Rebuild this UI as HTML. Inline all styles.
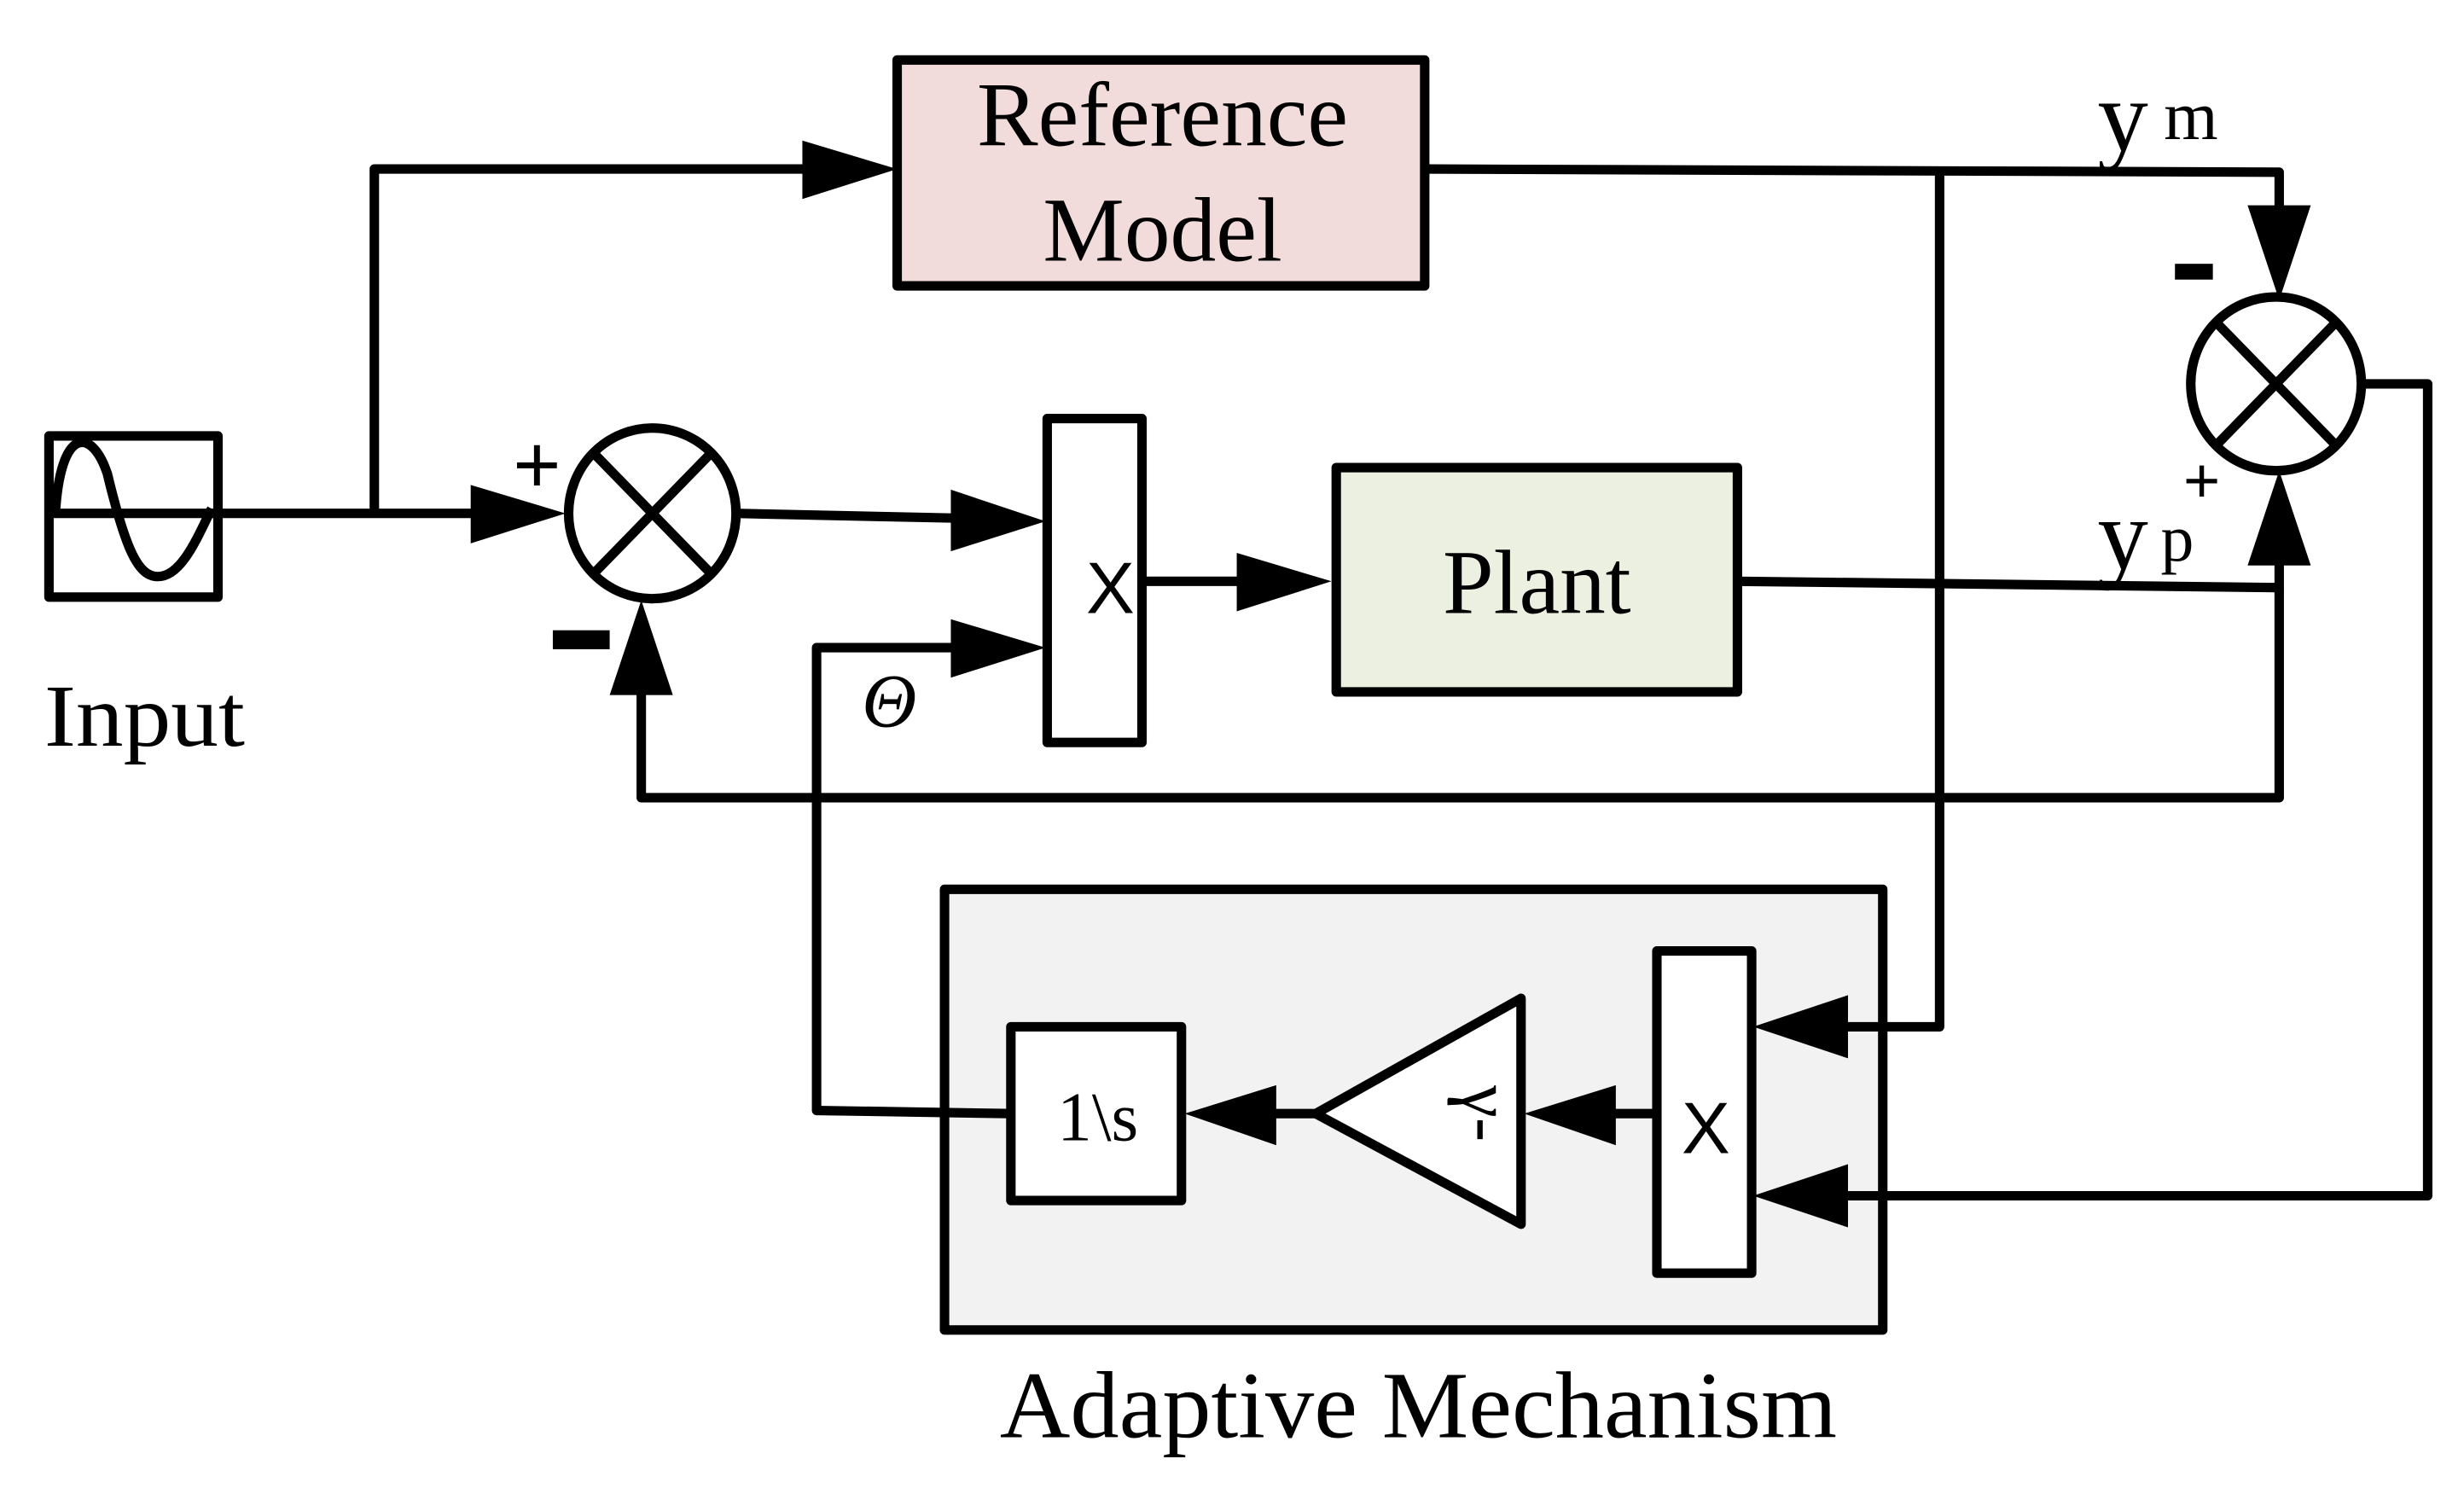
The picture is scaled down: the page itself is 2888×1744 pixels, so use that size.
<!DOCTYPE html>
<html><head><style>html,body{margin:0;padding:0;background:#fff}svg{display:block}</style></head>
<body>
<svg width="2888" height="1744" viewBox="0 0 1560 942" preserveAspectRatio="none" xmlns="http://www.w3.org/2000/svg">
<defs>
<style>
.l{stroke:#000;stroke-width:6;fill:none;stroke-linejoin:round}
.w{fill:#fff}
.t{font-family:"Liberation Serif",serif;fill:#000}
.s{font-family:"Liberation Sans",sans-serif;fill:#000}
</style>
</defs>
<!-- boxes -->
<rect x="568" y="38" width="334" height="143" class="l" style="fill:#f2dcdb"/>
<text class="t" x="736" y="92" font-size="58" text-anchor="middle">Reference</text>
<text class="t" x="736" y="165" font-size="58" text-anchor="middle">Model</text>
<rect x="846" y="296" width="254" height="142" class="l" style="fill:#ebf0e0"/>
<text class="t" x="973" y="388" font-size="58" text-anchor="middle">Plant</text>
<rect x="598" y="563" width="594" height="279" class="l" style="fill:#f2f2f2"/>
<text class="t" x="898" y="910" font-size="60" text-anchor="middle" textLength="530" lengthAdjust="spacingAndGlyphs">Adaptive Mechanism</text>

<!-- input source -->
<rect x="31" y="276" width="107" height="102" class="l" style="fill:#fff"/>
<path class="l" d="M35 326 C38 270 58 270 68 300 C80 350 88 365 100 365 C115 365 125 340 134 322"/>
<text class="t" x="28" y="472" font-size="56" textLength="127" lengthAdjust="spacingAndGlyphs">Input</text>

<!-- lines -->
<path class="l" d="M31 325 L300 325"/>
<path class="l" d="M237 325 L237 107 L510 107"/>
<path class="l" d="M466 325 L605 328"/>
<path class="l" d="M723 368 L785 368"/>
<path class="l" d="M902 107 L1443 109 L1443 135"/>
<path class="l" d="M1228 109 L1228 650 L1170 650"/>
<path class="l" d="M1100 368 L1443 372 L1443 355"/>
<path class="l" d="M1443 372 L1443 505 L406 505 L406 438"/>
<path class="l" d="M1497 243 L1537 243 L1537 757 L1170 757"/>
<path class="l" d="M1048 705 L1020 705"/>
<path class="l" d="M833 705 L805 705"/>
<path class="l" d="M640 705 L517 703 L517 410 L605 410"/>

<!-- arrowheads -->
<polygon points="298,307 358,325 298,344"/>
<polygon points="508,89 568,107 508,126"/>
<polygon points="602,310 662,330 602,349"/>
<polygon points="602,392 662,410 602,429"/>
<polygon points="783,350 843,368 783,387"/>
<polygon points="1423,130 1443,190 1463,130"/>
<polygon points="1423,358 1443,298 1463,358"/>
<polygon points="386,440 406,380 426,440"/>
<polygon points="1170,630 1110,650 1170,670"/>
<polygon points="1170,737 1110,757 1170,777"/>
<polygon points="1023,687 965,705 1023,725"/>
<polygon points="808,687 750,705 808,725"/>

<!-- sum circles -->
<ellipse cx="413" cy="325" rx="53" ry="54" class="l" style="fill:#fff"/>
<path class="l" d="M376 287 L450 363 M450 287 L376 363"/>
<ellipse cx="1441" cy="243" rx="54" ry="55" class="l" style="fill:#fff"/>
<path class="l" d="M1403 204 L1479 282 M1479 204 L1403 282"/>
<text class="s" x="340" y="312" font-size="52" text-anchor="middle">+</text>
<rect x="350" y="399" width="36" height="12" fill="#000"/>
<rect x="1377" y="167" width="24" height="10" fill="#000"/>

<!-- multiplier boxes -->
<rect x="663" y="265" width="60" height="205" class="l" style="fill:#fff"/>
<text class="s" x="703" y="388" font-size="46" text-anchor="middle">X</text>
<rect x="1049" y="602" width="60" height="204" class="l" style="fill:#fff"/>
<text class="s" x="1080" y="730" font-size="46" text-anchor="middle">X</text>

<!-- gain triangle -->
<polygon points="833,705 963,632 963,775" class="l" style="fill:#fff"/>
<text class="t" x="0" y="0" font-size="46" text-anchor="middle" transform="translate(926,705) rotate(90)">γ-</text>

<!-- integrator -->
<rect x="640" y="650" width="108" height="110" class="l" style="fill:#fff"/>
<text class="t" x="695" y="722" font-size="44" text-anchor="middle">1\s</text>

<!-- labels -->
<text class="t" x="563" y="460" font-size="48" font-style="italic" text-anchor="middle">Θ</text>
<text class="t" x="1328" y="95" font-size="64">y</text>
<text class="t" x="1370" y="88" font-size="44">m</text>
<text class="t" x="1328" y="360" font-size="64">y</text>
<text class="t" x="1368" y="355" font-size="42">p</text>
<text class="s" x="1394" y="318" font-size="40" text-anchor="middle">+</text>
</svg>
</body></html>
